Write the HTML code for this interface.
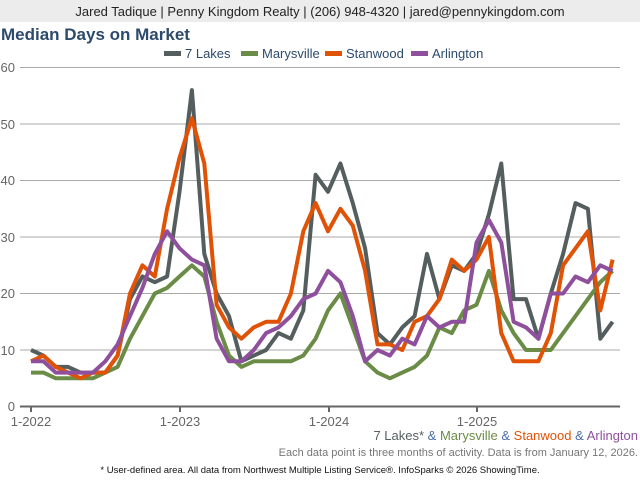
<!DOCTYPE html>
<html><head><meta charset="utf-8"><style>
html,body{margin:0;padding:0;background:#fff;width:640px;height:480px;overflow:hidden;font-family:"Liberation Sans",sans-serif}
</style></head><body>
<svg id="s" width="640" height="480" xmlns="http://www.w3.org/2000/svg" font-family="Liberation Sans, sans-serif">
<rect x="0" y="0" width="640" height="22" fill="#ececec"/>
<text x="320" y="16" font-size="13" text-anchor="middle" fill="#222">Jared Tadique | Penny Kingdom Realty | (206) 948-4320 | jared@pennykingdom.com</text>
<text x="1" y="40" font-size="17" font-weight="bold" fill="#2c4a6b">Median Days on Market</text>
<g font-size="13" fill="#2c4a6b">
<rect x="164" y="51" width="17" height="5" fill="#555e5e"/><text x="185" y="58">7 Lakes</text>
<rect x="241" y="51" width="17" height="5" fill="#6a8c46"/><text x="262" y="58">Marysville</text>
<rect x="325" y="51" width="17" height="5" fill="#e05206"/><text x="346" y="58">Stanwood</text>
<rect x="411" y="51" width="17" height="5" fill="#8e4f9c"/><text x="432" y="58">Arlington</text>
</g>
<g stroke="#aaa" stroke-width="1">
<line x1="20" x2="620" y1="67.5" y2="67.5"/><line x1="20" x2="620" y1="124" y2="124"/><line x1="20" x2="620" y1="180.5" y2="180.5"/>
<line x1="20" x2="620" y1="237" y2="237"/><line x1="20" x2="620" y1="293.5" y2="293.5"/><line x1="20" x2="620" y1="350" y2="350"/>
</g>
<g font-size="13" fill="#666" text-anchor="end">
<text x="15" y="72">60</text><text x="15" y="129">50</text><text x="15" y="185">40</text><text x="15" y="242">30</text><text x="15" y="298">20</text><text x="15" y="355">10</text><text x="15" y="411">0</text>
</g>
<line x1="20" x2="620" y1="406.5" y2="406.5" stroke="#666" stroke-width="2"/>
<g stroke="#666" stroke-width="2"><line x1="31" x2="31" y1="406" y2="412"/><line x1="180" x2="180" y1="406" y2="412"/><line x1="329" x2="329" y1="406" y2="412"/><line x1="477" x2="477" y1="406" y2="412"/></g>
<g font-size="13" fill="#666" text-anchor="middle">
<text x="31" y="426">1-2022</text><text x="180" y="426">1-2023</text><text x="329" y="426">1-2024</text><text x="477" y="426">1-2025</text>
</g>
<g id="lines" fill="none" stroke-width="4" stroke-linejoin="round"></g>
<text x="638" y="440" font-size="13" text-anchor="end"><tspan fill="#555e5e">7 Lakes*</tspan><tspan fill="#4a6fa5"> &amp; </tspan><tspan fill="#6a8c46">Marysville</tspan><tspan fill="#4a6fa5"> &amp; </tspan><tspan fill="#e05206">Stanwood</tspan><tspan fill="#4a6fa5"> &amp; </tspan><tspan fill="#8e4f9c">Arlington</tspan></text>
<text x="638" y="456" font-size="11" text-anchor="end" fill="#777">Each data point is three months of activity. Data is from January 12, 2026.</text>
<text x="320" y="473" font-size="9.5" text-anchor="middle" fill="#111">* User-defined area. All data from Northwest Multiple Listing Service®. InfoSparks © 2026 ShowingTime.</text>
</svg>
<script>
var d=[
["#8e4f9c",[8,8,6,6,6,6,8,11,16,21,27,31,28,26,25,12,8,8,10,13,14,16,19,20,24,22,16,8,10,9,12,11,16,14,15,15,29,33,29,15,14,12,20,20,23,22,25,24]],
["#e05206",[8,9,7,6,5,6,6,9,20,25,23,35,44,51,43,18,14,12,14,15,15,20,31,36,31,35,32,24,11,11,10,15,16,19,26,24,26,30,13,8,8,8,13,25,28,31,17,26]],
["#6a8c46",[6,6,5,5,5,5,6,7,12,16,20,21,23,25,23,15,9,7,8,8,8,8,9,12,17,20,14,8,6,5,6,7,9,14,13,17,18,24,17,13,10,10,10,13,16,19,22,24]],
["#555e5e",[10,9,7,7,6,6,6,9,19,23,22,23,38,56,27,20,16,8,9,10,13,12,17,41,38,43,36,28,13,11,14,16,27,19,25,24,27,34,43,19,19,12,20,27,36,35,12,15]]
];
var g=document.getElementById("lines"),ns="http://www.w3.org/2000/svg";
d.reverse().forEach(function(s){var p=document.createElementNS(ns,"polyline");
p.setAttribute("stroke",s[0]);
p.setAttribute("points",s[1].map(function(v,i){return (31+i*12.375).toFixed(1)+","+(406.5-v*5.65).toFixed(1)}).join(" "));
g.appendChild(p);});
</script>
</body></html>
